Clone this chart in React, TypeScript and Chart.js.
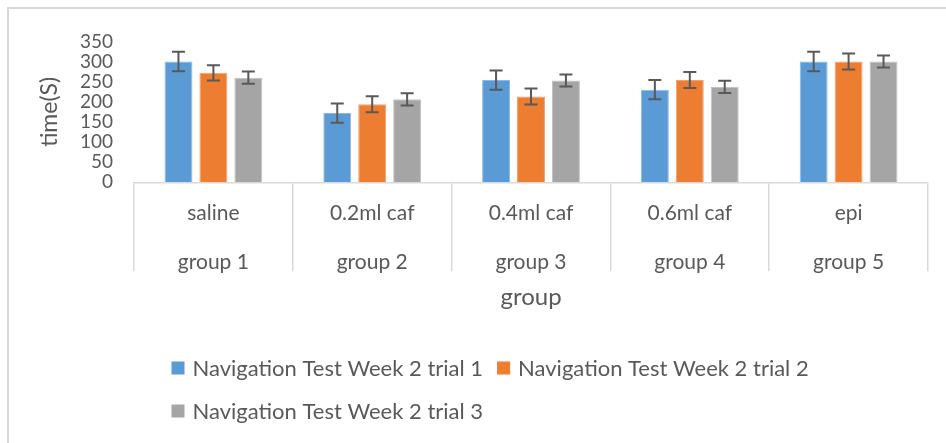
import React, { useEffect, useRef } from "react";
import { Chart, registerables } from "chart.js";

Chart.register(...registerables);

const categories = ["saline", "0.2ml caf", "0.4ml caf", "0.6ml caf", "epi"];
const groups = ["group 1", "group 2", "group 3", "group 4", "group 5"];
const seriesNames = [
  "Navigation Test Week 2 trial 1",
  "Navigation Test Week 2 trial 2",
  "Navigation Test Week 2 trial 3",
];
const trial1 = [300, 172, 254, 230, 300];
const trial2 = [272, 194, 213, 254, 300];
const trial3 = [260, 206, 253, 237, 300];
const err1 = [24, 24, 24, 24, 24];
const err2 = [19, 20, 20, 20, 20];
const err3 = [15, 15, 15, 15, 15];
const yTicks = [0, 50, 100, 150, 200, 250, 300, 350];

const COLORS = ["#5B9BD5", "#ED7D31", "#A5A5A5"];
const BORDERS = ["#8DB9E4", "#F3A26F", "#C2C2C2"];
const TEXT = "#595959";
const FONT = "Lato, 'Noto Sans', sans-serif";

const W = 937;
const H = 434;

const errorBarPlugin = {
  id: "errorBars",
  afterDatasetsDraw(chart: any) {
    const ctx = chart.ctx;
    const yScale = chart.scales.y;
    ctx.save();
    ctx.strokeStyle = "#595959";
    ctx.lineWidth = 2;
    chart.data.datasets.forEach((ds: any, i: number) => {
      const meta = chart.getDatasetMeta(i);
      meta.data.forEach((el: any, j: number) => {
        const v = ds.data[j];
        const e = ds.errors[j];
        const x = el.x;
        const yT = yScale.getPixelForValue(v + e);
        const yB = yScale.getPixelForValue(v - e);
        const cap = 6.5;
        ctx.beginPath();
        ctx.moveTo(x, yT);
        ctx.lineTo(x, yB);
        ctx.moveTo(x - cap, yT);
        ctx.lineTo(x + cap, yT);
        ctx.moveTo(x - cap, yB);
        ctx.lineTo(x + cap, yB);
        ctx.stroke();
      });
    });
    ctx.restore();
  },
};

const legendPlugin = {
  id: "gridLegend",
  afterDraw(chart: any) {
    const ctx = chart.ctx;
    const rows = [
      [0, 1],
      [2],
    ];
    const rowY = [359, 402];
    const left = 162.5;
    ctx.save();
    ctx.font = `22px ${FONT}`;
    ctx.textBaseline = "middle";
    ctx.textAlign = "left";
    rows.forEach((row, r) => {
      let x = left;
      const cy = rowY[r];
      row.forEach((idx) => {
        ctx.fillStyle = COLORS[idx];
        ctx.fillRect(x, cy - 6.5, 13, 13);
        ctx.fillStyle = TEXT;
        ctx.fillText(seriesNames[idx], x + 21, cy + 1);
        x += 21 + ctx.measureText(seriesNames[idx]).width + 14;
      });
    });
    ctx.restore();
  },
};

export default function App() {
  const ref = useRef<HTMLCanvasElement | null>(null);

  useEffect(() => {
    if (!ref.current) return;
    const values = [trial1, trial2, trial3];
    const errs = [err1, err2, err3];
    const chart = new Chart(ref.current, {
      type: "bar",
      data: {
        labels: categories.map((c, i) => [c, groups[i]]),
        datasets: values.map((d, i) => ({
          label: seriesNames[i],
          data: d,
          errors: errs[i],
          backgroundColor: COLORS[i],
          borderColor: BORDERS[i],
          borderWidth: 1,
          categoryPercentage: 0.66,
          barPercentage: 0.8,
        })) as any,
      },
      options: {
        animation: false,
        responsive: false,
        devicePixelRatio: 1,
        layout: { padding: { left: 26.6, right: 18, top: 26.5, bottom: 131.6 } },
        plugins: {
          legend: { display: false },
          tooltip: { enabled: false },
        },
        scales: {
          x: {
            grid: {
              display: true,
              drawOnChartArea: false,
              drawTicks: true,
              tickLength: 89,
              color: "#d9d9d9",
              lineWidth: 1.5,
              offset: true,
            },
            border: { display: true, color: "#d9d9d9", width: 1.5 },
            ticks: {
              padding: -82.8,
              color: TEXT,
              maxRotation: 0,
              autoSkip: false,
              font: { family: FONT, size: 21, lineHeight: 49 / 21 },
            },
            title: {
              display: true,
              text: "group",
              color: TEXT,
              padding: 0,
              font: { family: FONT, size: 24, lineHeight: 1.2 },
            },
            afterFit: (s: any) => {
              s.height = 129.1;
            },
          },
          y: {
            min: 0,
            max: 350,
            afterBuildTicks: (s: any) => {
              s.ticks = yTicks.map((v) => ({ value: v }));
            },
            grid: { display: false, drawTicks: false },
            border: { display: false },
            ticks: {
              padding: 21,
              color: TEXT,
              autoSkip: false,
              font: { family: FONT, size: 19 },
            },
            title: {
              display: true,
              text: "time(S)",
              color: TEXT,
              padding: 0,
              font: { family: FONT, size: 23, lineHeight: 1.2 },
            },
            afterFit: (s: any) => {
              s.width = 98.4;
            },
          },
        },
      } as any,
      plugins: [errorBarPlugin, legendPlugin],
    });
    return () => chart.destroy();
  }, []);

  return (
    <div
      style={{
        position: "fixed",
        left: 7,
        top: 7,
        width: 939,
        height: 436,
        borderLeft: "2px solid #d9d9d9",
        borderTop: "2px solid #d9d9d9",
        boxSizing: "border-box",
        background: "#fff",
      }}
    >
      <canvas ref={ref} width={W} height={H} style={{ display: "block" }} />
    </div>
  );
}
